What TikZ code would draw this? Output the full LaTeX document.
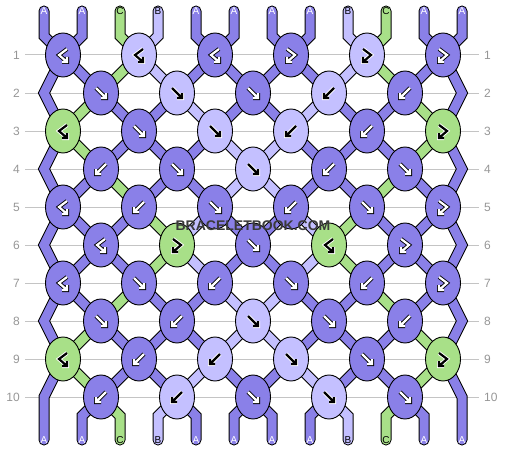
\documentclass[tikz,border=0pt]{standalone}
\usepackage{fontspec}
\setmainfont{Liberation Sans}
\usetikzlibrary{shapes.geometric}
\definecolor{colA}{RGB}{138,128,232}
\definecolor{colB}{RGB}{196,192,255}
\definecolor{colC}{RGB}{168,224,136}
\definecolor{rowgray}{RGB}{196,196,196}
\definecolor{numgray}{RGB}{150,150,150}
\definecolor{stampgray}{RGB}{58,58,58}
\tikzset{
strand/.style={draw=black, double=col#1, double distance=9pt, line width=1pt, line cap=round},
knot/.style={ellipse, draw=black, line width=.9pt, fill=col#1, minimum width=35pt, minimum height=44pt, inner sep=0pt},
inkA/.style={draw=black, double=white}, inkB/.style={draw=white, double=black}, inkC/.style={inkB},
glyph/.style={line width=.9pt, double distance=2.2pt, line cap=square},
pics/fk/.style={code={\draw[glyph,ink#1] (-5,-5) -- (5,5) (5,0) -- (5,5) -- (0,5);}},
pics/bk/.style={code={\draw[glyph,ink#1] (5,-5) -- (-5,5) (-5,0) -- (-5,5) -- (0,5);}},
pics/bfk/.style={code={\draw[glyph,ink#1] (4,-6) -- (-4,0) -- (4,7) (4,2) -- (4,7) -- (-1,7);}},
pics/fbk/.style={code={\draw[glyph,ink#1] (-4,-6) -- (4,0) -- (-4,7) (-4,2) -- (-4,7) -- (1,7);}},
tag/.style={font=\fontsize{10}{10}\selectfont, inner sep=0pt},
tagA/.style={text=white}, tagB/.style={text=black}, tagC/.style={text=black},
rowno/.style={text=numgray, font=\fontsize{12}{12}\selectfont, inner sep=2pt},
rowline/.style={draw=rowgray, line width=1pt, shorten <=3pt, shorten >=3pt},
stamp/.style={text=stampgray, font=\fontsize{14}{14}\selectfont\bfseries, inner sep=0pt}
}
\begin{document}
\begin{tikzpicture}[x=1pt,y=-1pt]
\useasboundingbox (0,0) rectangle (506,452);

\foreach \r in {1,...,10}{
  \node[rowno, anchor=east] (ll-\r) at (22,17+38*\r) {\r};
  \node[rowno, anchor=west] (rl-\r) at (482,17+38*\r) {\r};
  \draw[rowline] (ll-\r.east) -- (rl-\r.west);
  \foreach \p in {1,...,12}{
    \pgfmathsetmacro\qx{isodd(\r) ? 76*int((\p+1)/2)-13 : (\p==1 ? 44 : (\p==12 ? 462 : 25+76*int(\p/2)))}
    \coordinate (q-\r-\p) at (\qx,17+38*\r);
  }
}
\foreach \p in {1,...,12}{
  \coordinate (t-\p) at (6+38*\p,11);
  \coordinate (q-0-\p) at (6+38*\p,36);
  \coordinate (q-11-\p) at (6+38*\p,416);
  \coordinate (b-\p) at (6+38*\p,440);
}

% strands
\foreach \p in {1,12}
  \draw[strand=A] (t-\p) -- (q-0-\p) \foreach \r in {1,...,11}{ -- (q-\r-\p)} -- (b-\p);
\foreach \c [count=\p from 2] in {A,C,B,A,A,A,A,B,C,A}{
  \draw[strand=\c] (t-\p) -- (q-0-\p) -- (q-1-\p);
  \draw[strand=\c] (q-10-\p) -- (q-11-\p) -- (b-\p);
}
\foreach \r/\cl in {1/{A,C,B,A,A,A,A,B,C,A}, 2/{C,A,A,B,A,A,B,A,A,C}, 3/{C,A,A,A,B,B,A,A,A,C},
  4/{A,C,A,A,B,B,A,A,C,A}, 5/{A,A,C,B,A,A,B,C,A,A}, 6/{A,A,C,B,A,A,B,C,A,A},
  7/{A,C,A,A,B,B,A,A,C,A}, 8/{C,A,A,A,B,B,A,A,A,C}, 9/{C,A,A,B,A,A,B,A,A,C}}{
  \pgfmathtruncatemacro\rn{\r+1}
  \foreach \c [count=\p from 2] in \cl
    \draw[strand=\c] (q-\r-\p) -- (q-\rn-\p);
}

% knots
\foreach \r/\kl in {1/{A/bfk,B/bfk,A/bfk,A/fbk,B/fbk,A/fbk}, 2/{A/fk,B/fk,A/fk,B/bk,A/bk},
  3/{C/bfk,A/fk,B/fk,B/bk,A/bk,C/fbk}, 4/{A/bk,A/fk,B/fk,A/bk,A/fk},
  5/{A/bfk,A/bk,A/fk,A/bk,A/fk,A/fbk}, 6/{A/bfk,C/fbk,A/fk,C/bfk,A/fbk},
  7/{A/bfk,A/fk,A/bk,A/fk,A/bk,A/fbk}, 8/{A/fk,A/bk,B/fk,A/fk,A/bk},
  9/{C/bfk,A/bk,B/bk,B/fk,A/fk,C/fbk}, 10/{A/bk,B/bk,A/fk,B/fk,A/fk}}{
  \foreach \c/\t [count=\i] in \kl{
    \pgfmathtruncatemacro\pp{2*\i}
    \node[knot=\c] (n-\r-\i) at (q-\r-\pp) {};
    \pic at (n-\r-\i) {\t=\c};
  }
}

\foreach \c [count=\p] in {A,A,C,B,A,A,A,A,B,C,A,A}{
  \node[tag, tag\c] (tl-\p) at (t-\p) {\c};
  \node[tag, tag\c] (bl-\p) at (b-\p) {\c};
}
\node[stamp] (wm) at (253,226) {BRACELETBOOK.COM};
\end{tikzpicture}
\end{document}
